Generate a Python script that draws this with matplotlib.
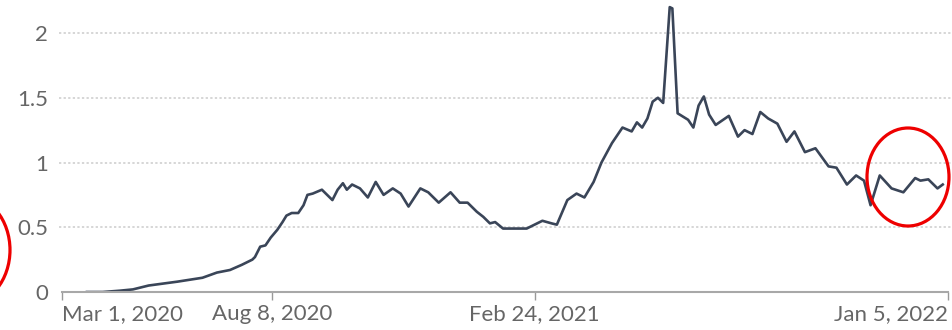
import matplotlib
matplotlib.use("Agg")
import matplotlib.pyplot as plt
from matplotlib.patches import Ellipse
import pandas as pd

dates = [
    "2020-03-20", "2020-04-01", "2020-04-14", "2020-04-24", "2020-05-06", "2020-05-28",
    "2020-06-16", "2020-06-27", "2020-07-07", "2020-07-16", "2020-07-24", "2020-07-26",
    "2020-07-30", "2020-08-03", "2020-08-07", "2020-08-12", "2020-08-16", "2020-08-19",
    "2020-08-23", "2020-08-28", "2020-09-01", "2020-09-04", "2020-09-08", "2020-09-15",
    "2020-09-23", "2020-09-27", "2020-10-01", "2020-10-04", "2020-10-08", "2020-10-14",
    "2020-10-20", "2020-10-26", "2020-11-01", "2020-11-08", "2020-11-14", "2020-11-20",
    "2020-11-29", "2020-12-05", "2020-12-13", "2020-12-22", "2020-12-29", "2021-01-04",
    "2021-01-11", "2021-01-16", "2021-01-21", "2021-01-25", "2021-01-31", "2021-02-13",
    "2021-02-18", "2021-02-26", "2021-03-02", "2021-03-09", "2021-03-13", "2021-03-21",
    "2021-03-28", "2021-04-03", "2021-04-10", "2021-04-16", "2021-04-24", "2021-05-02",
    "2021-05-09", "2021-05-13", "2021-05-17", "2021-05-21", "2021-05-25", "2021-05-29",
    "2021-06-02", "2021-06-07", "2021-06-09", "2021-06-13", "2021-06-21", "2021-06-25",
    "2021-06-29", "2021-07-03", "2021-07-07", "2021-07-12", "2021-07-22", "2021-07-29",
    "2021-08-03", "2021-08-09", "2021-08-15", "2021-08-21", "2021-08-28", "2021-09-04",
    "2021-09-10", "2021-09-18", "2021-09-26", "2021-10-06", "2021-10-12", "2021-10-20",
    "2021-10-27", "2021-11-02", "2021-11-07", "2021-11-14", "2021-11-23", "2021-12-02",
    "2021-12-11", "2021-12-15", "2021-12-21", "2021-12-28", "2022-01-01",
]
values = [
    0.00, 0.00, 0.01, 0.02, 0.05, 0.08,
    0.11, 0.15, 0.17, 0.21, 0.25, 0.27,
    0.35, 0.36, 0.42, 0.48, 0.54, 0.59,
    0.61, 0.61, 0.67, 0.75, 0.76, 0.79,
    0.71, 0.79, 0.84, 0.79, 0.83, 0.80,
    0.73, 0.85, 0.75, 0.80, 0.76, 0.66,
    0.80, 0.77, 0.69, 0.77, 0.69, 0.69,
    0.62, 0.58, 0.53, 0.54, 0.49, 0.49,
    0.49, 0.53, 0.55, 0.53, 0.52, 0.71,
    0.76, 0.73, 0.85, 1.00, 1.15, 1.27,
    1.24, 1.31, 1.27, 1.34, 1.47, 1.50,
    1.46, 2.20, 2.19, 1.38, 1.33, 1.27,
    1.44, 1.51, 1.37, 1.29, 1.36, 1.20,
    1.25, 1.22, 1.39, 1.34, 1.30, 1.16,
    1.24, 1.08, 1.11, 0.97, 0.96, 0.83,
    0.90, 0.86, 0.67, 0.90, 0.80, 0.77,
    0.88, 0.86, 0.87, 0.80, 0.83,
]
tick_dates = ["2020-03-01", "2020-08-08", "2021-02-24", "2022-01-05"]
tick_labels = ["Mar 1, 2020", "Aug 8, 2020", "Feb 24, 2021", "Jan 5, 2022"]
y_ticks = [0, 0.5, 1, 1.5, 2]
y_labels = ["0", "0.5", "1", "1.5", "2"]

plt.rcParams["font.family"] = ["Lato", "DejaVu Sans"]

x = pd.to_datetime(dates)
ticks = pd.to_datetime(tick_dates)

fig = plt.figure(figsize=(9.52, 3.30), dpi=100)
ax = fig.add_axes([62 / 952, 38 / 330, 886 / 952, 292 / 330])
ax.plot(x, values, color="#3a4558", lw=1.9, solid_joinstyle="round")

ax.set_xlim(ticks[0], ticks[-1])
ax.set_ylim(0, 2.255)

ax.set_yticks(y_ticks)
ax.set_yticklabels(y_labels)
for y in y_ticks[1:]:
    ax.axhline(y, xmin=-0.003, xmax=1.01, color="#cccccc", lw=1.1, ls=(0, (1.5, 1.5)), clip_on=False, zorder=0)
ax.tick_params(axis="y", length=0, pad=10, labelsize=16, labelcolor="#666666")

ax.set_xticks(ticks)
ax.set_xticklabels(tick_labels)
ax.tick_params(axis="x", length=6, width=1, color="#999999", labelsize=16, labelcolor="#666666", pad=3)
labels = ax.get_xticklabels()
labels[0].set_ha("left")
labels[-1].set_ha("right")

for s in ["top", "right", "left"]:
    ax.spines[s].set_visible(False)
ax.spines["bottom"].set_color("#a8a8a8")
ax.spines["bottom"].set_linewidth(1.5)

# red highlight circles
fig.add_artist(Ellipse((908 / 952, 1 - 177 / 330), 82 / 952, 98 / 330,
                       transform=fig.transFigure, fill=False, ec="#ee0000", lw=2.3))
fig.add_artist(Ellipse((-35 / 952, 1 - 250 / 330), 90 / 952, 110 / 330,
                       transform=fig.transFigure, fill=False, ec="#ee0000", lw=2.3))

fig.savefig("out.png", dpi=100)
